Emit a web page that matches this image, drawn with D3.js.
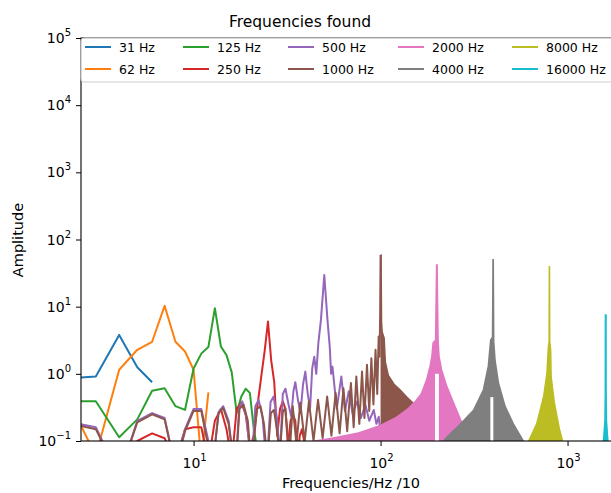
<!DOCTYPE html>
<html><head><meta charset="utf-8">
<script src="https://cdn.jsdelivr.net/npm/d3@7"></script>
<style>body{margin:0;background:#fff} svg{display:block} text{font-family:"DejaVu Sans",sans-serif;fill:#000}</style>
</head><body><svg id="c" width="611" height="493"></svg>
<script>
// ---------------- data ----------------
const seriesNames = ["31 Hz","62 Hz","125 Hz","250 Hz","500 Hz","1000 Hz","2000 Hz","4000 Hz","8000 Hz","16000 Hz"];
const seriesColors = ["#1f77b4","#ff7f0e","#2ca02c","#d62728","#9467bd","#8c564b","#e377c2","#7f7f7f","#bcbd22","#17becf"];

const blue = [[2,0.85],[3,0.91],[4,3.8],[5,1.25],[6,0.75]];
const orange = [[2,0.6],[3,0.06],[4,1.15],[5,2.28],[6,3.0],[7,10.3],[8,3.0],[9,2.15],[10,1.15],[11,0.05],[12,0.53]];
const green = [[2,0.39],[3,0.39],[4,0.114],[5,0.21],[6,0.56],[7,0.61],[8,0.33],[9,0.29],[10,1.2],[11,2.0],[12,2.5],[13,9.5],[14,2.55],[15,1.9],[16,1.05],[17,0.26],[18,0.46],[19,0.6],[20,0.52],[21,0.15],[22,0.07],[23,0.09],[24,0.08],[25,0.05]];
const red = [[2,0.05],[3,0.02],[4,0.04],[5,0.1],[6,0.13],[7,0.11],[8,0.05],[9,0.15],[10,0.16],[11,0.16],[12,0.05],[13,0.2],[14,0.3],[15,0.15],[16,0.05],[17,0.3],[18,0.37],[19,0.25],[20,0.08],[21,0.12],[22,0.35],[23,0.9],[24,2.2],[25,6.0],[26,1.6],[27,0.75],[28,0.12],[29,0.3],[30,0.39],[31,0.3],[32,0.08],[33,0.2],[34,0.25],[35,0.2],[36,0.06],[37,0.12],[38,0.15],[39,0.1],[40,0.04],[41,0.08],[42,0.09],[43,0.07],[44,0.03],[45,0.05],[46,0.06],[47,0.05],[48,0.02],[49,0.04],[50,0.05]];
const purple = [[2,0.2],[3,0.16],[4,0.03],[5,0.2],[6,0.26],[7,0.22],[8,0.04],[9,0.15],[10,0.3],[11,0.3],[12,0.1],[12.5,0.03],[13.6,0.27],[14.4,0.33],[15.4,0.2],[16.7,0.03],[17.5,0.3],[18.2,0.39],[19.2,0.22],[20.4,0.04],[21.4,0.33],[22.3,0.41],[23.4,0.22],[24.6,0.04],[25.8,0.38],[26.8,0.46],[27.9,0.22],[29,0.06],[30,0.5],[31,0.6],[32.2,0.35],[33.3,0.23],[34.2,0.55],[35,0.75],[36.2,0.4],[37.3,0.26],[38.5,0.7],[39.6,1.08],[40.8,0.5],[42,0.31],[43.1,1.2],[44.2,1.8],[45.3,1.0],[46.5,2.9],[48,6.4],[50,29.6],[52,6.4],[53.5,2.5],[54.4,1.0],[55.3,1.28],[58.3,0.3],[61.7,0.91],[64.5,0.28],[67.6,0.55],[71,0.25],[74.9,0.39],[78.5,0.22],[82.9,0.35],[87,0.2],[92,0.29],[95,0.18],[97.8,0.23],[100,0.12]];
const brown = [[2,0.19],[3,0.15],[4,0.03],[5,0.19],[6,0.25],[7,0.21],[8,0.04],[9,0.14],[10,0.28],[11,0.28],[12,0.08],[12.5,0.03],[13.6,0.26],[14.4,0.31],[15.4,0.18],[16.7,0.03],[17.6,0.3],[18.5,0.35],[19.5,0.2],[20.4,0.04],[21.8,0.3],[22.8,0.33],[23.8,0.18],[24.8,0.05],[25.9,0.26],[26.9,0.29],[27.9,0.15],[28.9,0.06],[30,0.27],[30.9,0.31],[31.9,0.12],[32.8,0.08],[33.9,0.33],[35.5,0.09],[37.2,0.37],[39.3,0.1],[41.4,0.39],[43.8,0.1],[46.3,0.41],[49,0.11],[51.8,0.46],[54.6,0.12],[57.5,0.52],[60.4,0.13],[63.3,0.61],[66.3,0.14],[69.4,0.73],[71.8,0.16],[74.2,0.91],[77,0.18],[79.6,1.08],[82,0.22],[84.6,1.36],[87,0.28],[89.3,1.71],[91.6,0.35],[94,2.28],[96,0.5],[97.7,3.6],[98.8,1.8],[99.5,8],[100,59]];
// dense (filled) parts: upper envelope of the rapidly alternating bins
const brownFill = [[100,59],[100.6,59],[101.2,6],[102,4.2],[104.5,3.4],[106,1.5],[110,0.95],[118,0.7],[127,0.58],[138,0.45],[152,0.35],[165,0.28],[180,0.22],[200,0.18]];
const pinkFill = [[25,0.07],[30,0.085],[40,0.095],[55,0.11],[75,0.13],[100,0.17],[120,0.22],[140,0.3],[155,0.4],[165,0.5],[176,0.8],[184,1.3],[188,1.8],[191,2.9],[197,3.2],[199.4,41.8],[200.6,41.8],[203,3.2],[205.5,1.8],[212,1.14],[226,0.65],[250,0.33],[276,0.17],[300,0.13],[350,0.09],[400,0.07]];
const pinkNotch = [195.5, 205, 1.0];
const grayFill = [[200,0.06],[210,0.09],[230,0.12],[265,0.174],[315,0.29],[355,0.58],[377,1.3],[388,3.2],[397,3.5],[399.4,49.8],[400.6,49.8],[403,3.0],[409.5,1.6],[427,0.73],[463,0.33],[513,0.18],[580,0.1],[620,0.08],[800,0.05]];
const grayNotch = [386.5, 401, 0.45];
const oliveFill = [[600,0.05],[620,0.1],[684,0.18],[745,0.46],[776,1.02],[790,2.55],[797,3],[799.3,39.4],[800.7,39.4],[803,3],[812,2.3],[817,0.9],[850,0.37],[905,0.15],[940,0.1],[1000,0.07]];
const cyanFill = [[1540,0.07],[1565,0.12],[1585,0.2],[1592,0.5],[1594,7.5],[1606,7.5],[1608,0.5],[1615,0.2],[1635,0.12],[1660,0.07]];

const xMajor = [10,100,1000];
const xMajorExp = ["1","2","3"];
const yMajor = [0.1,1,10,100,1e3,1e4,1e5];
const yMajorExp = ["\u22121","0","1","2","3","4","5"];

// ---------------- drawing ----------------
const svg = d3.select("#c");
const L = 81, T = 38, R = 662, B = 441;
const x = d3.scaleLog().domain([2.5,3200]).range([L,R]);
const y = d3.scaleLog().domain([0.1,1e5]).range([B,T]);

svg.append("defs").append("clipPath").attr("id","clip")
  .append("rect").attr("x",L).attr("y",T).attr("width",R-L).attr("height",B-T);

const plot = svg.append("g").attr("clip-path","url(#clip)");
const line = d3.line().x(d=>x(d[0])).y(d=>y(d[1]));
const area = d3.area().x(d=>x(d[0])).y1(d=>y(d[1])).y0(y(0.01));

const lineSeries = [blue, orange, green, red, purple, brown];
lineSeries.forEach((s,i)=>{
  plot.append("path").attr("d",line(s)).attr("fill","none")
    .attr("stroke",seriesColors[i]).attr("stroke-width",2).attr("stroke-linejoin","round");
});

const fills = [[brownFill,5,null],[pinkFill,6,pinkNotch],[grayFill,7,grayNotch],[oliveFill,8,null],[cyanFill,9,null]];
fills.forEach(([s,ci,notch])=>{
  plot.append("path").attr("d",area(s)).attr("fill",seriesColors[ci]);
  plot.append("path").attr("d",line(s)).attr("fill","none")
    .attr("stroke",seriesColors[ci]).attr("stroke-width",1.5).attr("stroke-linejoin","miter");
  if(notch){
    plot.append("rect").attr("x",x(notch[0])).attr("width",x(notch[1])-x(notch[0]))
      .attr("y",y(notch[2])).attr("height",y(0.1)-y(notch[2])+2).attr("fill","#fff");
  }
});

// axes ticks
const xMinor = x.ticks().filter(v=>xMajor.indexOf(v)<0 && v>=2.5);
const yMinor = y.ticks().filter(v=>!yMajor.some(m=>Math.abs(m-v)/v<1e-6));
const gx = svg.append("g").attr("transform",`translate(0,${B})`);
gx.call(d3.axisBottom(x).tickValues(xMinor).tickSize(3).tickFormat(""));
gx.call(d3.axisBottom(x).tickValues(xMajor).tickSize(5).tickFormat(""));
const gy = svg.append("g").attr("transform",`translate(${L},0)`);
gy.call(d3.axisLeft(y).tickValues(yMinor).tickSize(3).tickFormat(""));
gy.call(d3.axisLeft(y).tickValues(yMajor).tickSize(5).tickFormat(""));
svg.selectAll(".domain").remove();
svg.selectAll(".tick line").attr("stroke","#000").attr("stroke-width",1);

// spines
svg.append("rect").attr("x",L).attr("y",T).attr("width",R-L).attr("height",B-T)
  .attr("fill","none").attr("stroke","#000").attr("stroke-width",1.1);

// tick labels
xMajor.forEach((v,i)=>{
  const t = svg.append("text").attr("x",x(v)+1).attr("y",468).attr("text-anchor","middle").attr("font-size",14);
  t.append("tspan").text("10");
  t.append("tspan").attr("dy",-7).attr("font-size",10).text(xMajorExp[i]);
});
yMajor.forEach((v,i)=>{
  const t = svg.append("text").attr("x",71).attr("y",y(v)+5).attr("text-anchor","end").attr("font-size",14);
  t.append("tspan").text("10");
  t.append("tspan").attr("dy",-7).attr("font-size",10).text(yMajorExp[i]);
});

// labels
svg.append("text").attr("x",300).attr("y",27).attr("text-anchor","middle").attr("font-size",15.5).text("Frequencies found");
svg.append("text").attr("x",351).attr("y",488).attr("text-anchor","middle").attr("font-size",14.5).text("Frequencies/Hz /10");
svg.append("text").attr("transform","translate(23,240) rotate(-90)").attr("text-anchor","middle").attr("font-size",14.5).text("Amplitude");

// legend
const lg = svg.append("g");
lg.append("rect").attr("x",L).attr("y",T).attr("width",R-L+10).attr("height",44).attr("rx",3)
  .attr("fill","#fff").attr("fill-opacity",0.8).attr("stroke","#ccc").attr("stroke-width",1);
const colX = [85,183,288,398,512];
const rowY = [47,69];
seriesNames.forEach((n,i)=>{
  const cx = colX[Math.floor(i/2)], cy = rowY[i%2];
  lg.append("line").attr("x1",cx).attr("x2",cx+26).attr("y1",cy).attr("y2",cy)
    .attr("stroke",seriesColors[i]).attr("stroke-width",2);
  lg.append("text").attr("x",cx+34).attr("y",cy+4.5).attr("font-size",12.5).text(n);
});
</script></body></html>
